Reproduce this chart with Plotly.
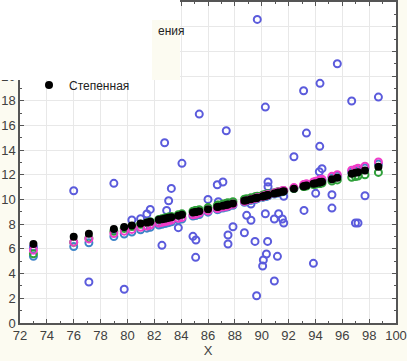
import plotly.graph_objects as go

# Observations (blue rings)
obs_x = [73.0, 76.0, 77.13, 78.99, 79.76, 80.33, 80.98, 81.45, 81.70, 82.34, 82.57, 82.77, 82.92,
         83.07, 83.27, 83.79, 84.06, 84.88, 85.08, 85.10, 85.35, 86.00, 86.77, 86.69, 87.11, 87.36,
         87.49, 87.49, 87.86, 88.71, 88.88, 89.20, 89.20, 89.50, 89.62, 89.67, 90.07, 90.12, 90.27,
         90.27, 90.35, 90.44, 90.47, 90.47, 90.94, 90.94, 91.17, 91.26, 91.54, 91.64, 91.64, 92.40,
         93.12, 93.15, 93.33, 93.85, 94.02, 94.29, 94.32, 94.34, 94.49, 95.23, 95.23, 95.63, 96.70,
         96.98, 97.17, 97.69, 98.69]
obs_y = [6.15, 10.71, 3.32, 11.31, 2.73, 8.34, 8.45, 8.83, 9.20, 8.10, 6.29, 14.60, 9.12,
         9.90, 10.90, 7.72, 12.93, 7.02, 5.32, 6.72, 16.92, 10.01, 9.82, 11.20, 11.42, 15.57,
         7.13, 6.40, 7.80, 7.31, 8.72, 8.32, 9.64, 6.61, 2.21, 24.59, 4.62, 5.10, 17.49,
         8.85, 5.59, 6.61, 11.42, 11.04, 3.40, 8.42, 5.40, 8.85, 8.42, 8.10, 10.26, 13.47,
         18.81, 9.12, 15.38, 4.83, 10.50, 12.25, 14.31, 19.41, 12.50, 10.39, 9.31, 21.00, 17.98,
         8.10, 8.10, 10.31, 18.30]

# Fitted values at each distinct x
fit_x = [73.0, 76.0, 77.13, 78.99, 79.76, 80.33, 80.98, 81.45, 81.70, 82.34, 82.57, 82.77, 82.92,
         83.07, 83.27, 83.79, 84.06, 84.88, 85.08, 85.10, 85.35, 86.00, 86.69, 86.77, 87.11, 87.36,
         87.49, 87.86, 88.71, 88.88, 89.20, 89.50, 89.62, 89.67, 90.07, 90.12, 90.27, 90.35, 90.44,
         90.47, 90.94, 91.17, 91.26, 91.54, 91.64, 92.40, 93.12, 93.15, 93.33, 93.85, 94.02, 94.29,
         94.32, 94.34, 94.49, 95.23, 95.63, 96.70, 96.98, 97.17, 97.69, 98.69]
fit_t = [5.40, 6.19, 6.49, 7.00, 7.21, 7.37, 7.55, 7.68, 7.75, 7.93, 8.00, 8.06, 8.10,
         8.14, 8.20, 8.35, 8.42, 8.66, 8.72, 8.72, 8.79, 8.98, 9.18, 9.21, 9.31, 9.38,
         9.42, 9.53, 9.78, 9.83, 9.93, 10.02, 10.05, 10.07, 10.19, 10.20, 10.25, 10.27, 10.30,
         10.31, 10.45, 10.52, 10.55, 10.63, 10.66, 10.90, 11.12, 11.13, 11.18, 11.34, 11.40, 11.48,
         11.49, 11.49, 11.54, 11.77, 11.90, 12.24, 12.33, 12.39, 12.55, 12.87]
fit_g = [5.60, 6.54, 6.88, 7.43, 7.66, 7.82, 8.00, 8.13, 8.20, 8.38, 8.44, 8.50, 8.54,
         8.58, 8.63, 8.77, 8.84, 9.06, 9.11, 9.12, 9.18, 9.35, 9.53, 9.55, 9.63, 9.69,
         9.73, 9.82, 10.03, 10.07, 10.14, 10.22, 10.24, 10.26, 10.35, 10.36, 10.40, 10.42, 10.44,
         10.45, 10.55, 10.61, 10.63, 10.69, 10.72, 10.89, 11.05, 11.05, 11.09, 11.21, 11.24, 11.30,
         11.31, 11.31, 11.34, 11.50, 11.59, 11.80, 11.86, 11.90, 12.00, 12.20]
fit_p = [5.90, 6.55, 6.81, 7.25, 7.44, 7.58, 7.75, 7.86, 7.93, 8.09, 8.15, 8.21, 8.24,
         8.28, 8.34, 8.48, 8.55, 8.77, 8.82, 8.83, 8.90, 9.08, 9.27, 9.30, 9.39, 9.46,
         9.50, 9.61, 9.85, 9.91, 10.00, 10.09, 10.12, 10.14, 10.26, 10.27, 10.32, 10.34, 10.37,
         10.38, 10.52, 10.59, 10.62, 10.71, 10.74, 10.97, 11.20, 11.21, 11.27, 11.43, 11.49, 11.57,
         11.58, 11.59, 11.64, 11.88, 12.01, 12.37, 12.46, 12.53, 12.70, 13.05]
fit_b = [6.40, 6.99, 7.22, 7.61, 7.78, 7.90, 8.05, 8.15, 8.21, 8.36, 8.41, 8.45, 8.49,
         8.52, 8.57, 8.69, 8.76, 8.95, 9.00, 9.00, 9.06, 9.22, 9.39, 9.41, 9.50, 9.56,
         9.59, 9.68, 9.90, 9.94, 10.03, 10.10, 10.13, 10.15, 10.25, 10.26, 10.30, 10.32, 10.35,
         10.36, 10.48, 10.54, 10.56, 10.64, 10.67, 10.87, 11.07, 11.08, 11.13, 11.27, 11.32, 11.39,
         11.40, 11.40, 11.45, 11.65, 11.77, 12.08, 12.16, 12.21, 12.36, 12.66]

x_ticks = list(range(72, 101, 2))
y_ticks = list(range(0, 27, 2))

CREAM = "#fcfbf1"
FONT = "Liberation Sans, Arial"

fig = go.Figure()
fig.add_trace(go.Scatter(x=obs_x, y=obs_y, mode="markers", name="Наблюдения", showlegend=False,
                         marker=dict(symbol="circle-open", size=7, color="#5b5bdc", line=dict(width=2))))
fig.add_trace(go.Scatter(x=fit_x, y=fit_t, mode="markers", name="Логарифмическая", showlegend=False,
                         marker=dict(symbol="circle-open", size=7, color="#3f84c8", line=dict(width=2))))
fig.add_trace(go.Scatter(x=fit_x, y=fit_g, mode="markers", name="Линейная", showlegend=False,
                         marker=dict(symbol="circle-open", size=7, color="#2fa03a", line=dict(width=2))))
fig.add_trace(go.Scatter(x=fit_x, y=fit_p, mode="markers", name="Экспоненциальная", showlegend=False,
                         marker=dict(symbol="circle-open", size=7, color="#f03cc8", line=dict(width=2))))
fig.add_trace(go.Scatter(x=fit_x, y=fit_b, mode="markers", name="Степенная", showlegend=True,
                         marker=dict(symbol="circle", size=8, color="#000000")))

axis_common = dict(showline=True, linecolor="#555555", linewidth=1.5, mirror="ticks",
                   ticks="inside", ticklen=4, tickwidth=1, tickcolor="#555555",
                   showgrid=True, gridcolor="#e8e8e8", gridwidth=1, zeroline=False,
                   automargin=False,
                   tickfont=dict(family=FONT, size=13, color="#404040"),
                   minor=dict(dtick=1, ticks="inside", ticklen=2, tickcolor="#555555", showgrid=False))

fig.update_xaxes(range=[72, 100], tickvals=x_ticks, **axis_common,
                 title=dict(text="X", standoff=2, font=dict(family=FONT, size=13, color="#404040")))
fig.update_yaxes(range=[0, 26], tickvals=y_ticks, **axis_common)

W, H = 407, 361
L, R, T, B = 20, 11, 2, 38
pw, ph = W - L - R, H - T - B
def px(xp):
    return (xp - L) / pw
def py(yp):
    return (H - B - yp) / ph

fig.update_layout(
    template="none",
    width=W, height=H,
    margin=dict(l=L, r=R, t=T, b=B, autoexpand=False),
    paper_bgcolor=CREAM, plot_bgcolor="white",
    showlegend=True,
    legend=dict(x=px(29), y=py(85), xanchor="left", yanchor="middle",
                bgcolor="rgba(0,0,0,0)", borderwidth=0,
                font=dict(family=FONT, size=12, color="#222222"),
                itemwidth=30),
    shapes=[
        dict(type="rect", xref="paper", yref="paper", x0=px(-2), x1=px(180), y0=py(20), y1=py(-2),
             fillcolor="white", line=dict(width=0), layer="above"),
        dict(type="rect", xref="paper", yref="paper", x0=px(-2), x1=px(152), y0=py(80), y1=py(19),
             fillcolor="white", line=dict(width=0), layer="above"),
        dict(type="rect", xref="paper", yref="paper", x0=px(152), x1=px(180), y0=py(80), y1=py(20),
             fillcolor=CREAM, line=dict(width=0), layer="above"),
    ],
    annotations=[
        dict(text="ения", xref="paper", yref="paper", x=px(187), y=py(31), xanchor="right",
             yanchor="middle", showarrow=False,
             font=dict(family=FONT, size=12, color="#222222")),
    ],
)

fig.write_html("out.html", config={"displayModeBar": False},
               post_script="document.body.style.margin='0px';document.body.style.overflow='hidden';")
